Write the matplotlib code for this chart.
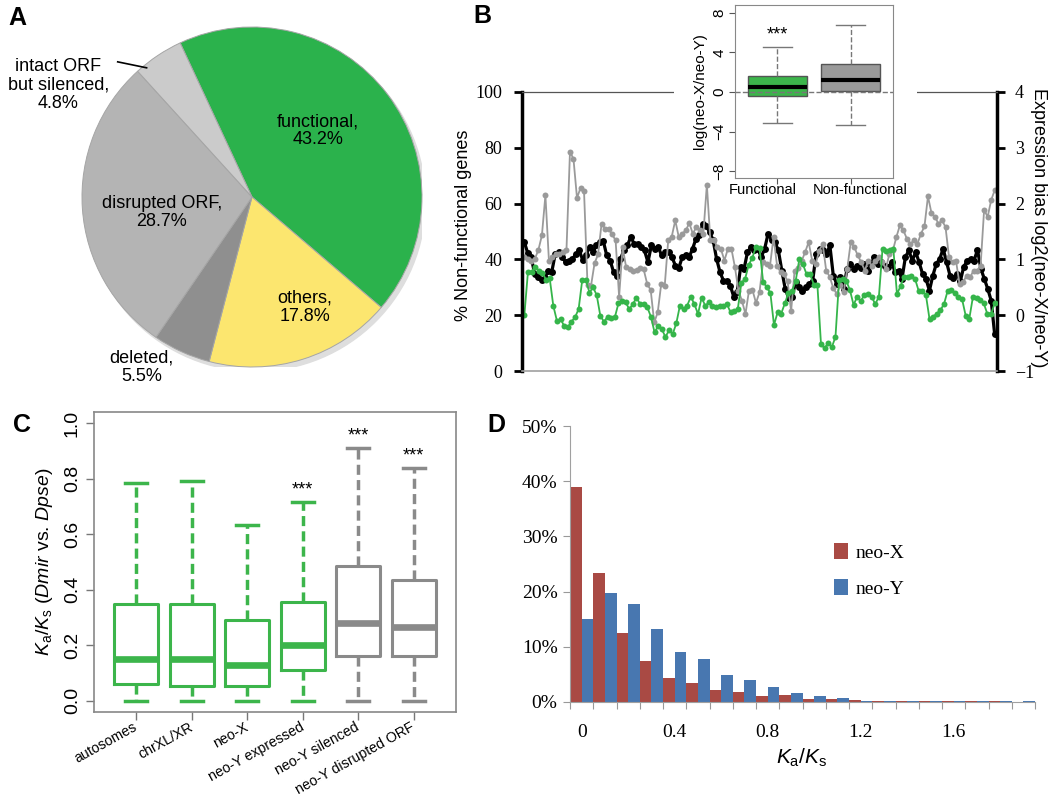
import numpy as np
import matplotlib
matplotlib.use('Agg')
import matplotlib.pyplot as plt
from matplotlib.patches import Rectangle, Circle

plt.rcParams['font.family'] = ['Liberation Sans', 'DejaVu Sans']
plt.rcParams['mathtext.fontset'] = 'custom'
plt.rcParams['mathtext.rm'] = 'Liberation Sans'
plt.rcParams['mathtext.it'] = 'Liberation Sans:italic'
SERIF = ['Liberation Serif', 'DejaVu Serif']

# ---- panel A: fate of neo-Y genes (%)
pie_labels = ['functional', 'others', 'deleted', 'disrupted ORF', 'intact ORF\nbut silenced']
pie_vals = [43.2, 17.8, 5.5, 28.7, 4.8]
pie_colors = ['#2bb24c', '#fce66f', '#8f8f8f', '#b4b4b4', '#cbcbcb']

# ---- panel B: sliding windows along the neo-sex chromosome
nonfunc_pct = [20, 35.6, 35.6, 37.4, 36, 35.3, 32.6, 33.3, 23.4, 18, 18.6, 16.2, 15.6, 17.7, 19.2,
               22.2, 32.6, 32.6, 28.1, 30, 27.2, 19.8, 17.7, 19.4, 19, 19.2, 24.2, 25.1, 24.6, 22.2,
               24, 26.3, 24, 24, 22.8, 19.4, 13.8, 16.2, 15, 12.2, 14.6, 13.2, 17.1, 23.4, 22.2,
               23.4, 26.6, 24, 20.4, 26.3, 23.4, 24.6, 23.4, 22.8, 23.4, 23.4, 24, 21, 21.6, 22.2,
               31.7, 32.9, 38, 40.5, 44.4, 44, 32, 30, 28, 16.5, 21, 20.6, 24.2, 28, 28.7, 32.3,
               40, 38.3, 34.7, 34.7, 31, 30.9, 9.6, 8.1, 10.2, 8.6, 12.2, 32.6, 33, 32.3, 29, 23.7,
               26.6, 25.1, 27.3, 27.5, 26.6, 24, 26.6, 43.7, 42.9, 43.4, 43.7, 27.5, 30.5, 33.8,
               33.8, 34.1, 33, 28.7, 28.5, 27.2, 18.6, 19.4, 20.6, 21.8, 24, 28.7, 29, 27.8, 26.6,
               25.7, 19.8, 18.8, 26.6, 26.1, 25.4, 24.2, 20.4, 20.4, 24.2]
bias_black = [1.31, 1.11, 1.04, 0.74, 0.69, 0.63, 0.67, 0.80, 0.78, 1.10, 1.13, 1.05, 0.95, 0.98,
              1.01, 1.09, 1.16, 0.99, 1.08, 1.22, 1.13, 1.25, 1.31, 1.33, 1.07, 0.98, 0.77, 0.71,
              1.01, 1.16, 1.25, 1.40, 1.28, 1.27, 1.22, 1.16, 0.95, 1.25, 1.19, 1.22, 1.07, 1.13,
              1.13, 1.04, 0.89, 0.85, 1.04, 1.08, 1.04, 1.19, 1.37, 1.43, 1.64, 1.59, 1.49, 1.34,
              1.01, 0.77, 0.62, 0.62, 0.53, 0.33, 0.41, 0.86, 0.83, 1.13, 1.22, 1.16, 1.19, 1.04,
              1.19, 1.46, 1.35, 1.31, 1.16, 0.80, 0.47, 0.31, 0.33, 0.59, 0.50, 0.44, 0.50, 0.56,
              0.62, 1.10, 1.19, 1.16, 1.09, 1.25, 0.71, 0.56, 0.69, 0.47, 0.83, 0.92, 0.83, 0.89,
              0.85, 0.91, 0.80, 0.92, 1.04, 0.92, 0.95, 0.89, 0.86, 0.95, 0.77, 0.80, 0.65, 1.04,
              1.16, 0.98, 1.13, 0.95, 0.74, 0.65, 0.44, 0.71, 0.92, 1.01, 1.19, 0.95, 0.71, 0.67,
              0.74, 0.61, 0.87, 0.97, 1.01, 0.98, 1.17, 0.83, 0.65, 0.47, 0.26, -0.34]
bias_gray = [1.04, 1.01, 0.98, 1.01, 1.17, 1.43, 2.15, 0.98, 1.04, 1.10, 1.10, 1.13, 1.17, 2.93,
             2.80, 2.10, 2.28, 2.23, 0.54, 0.53, 0.93, 1.09, 1.64, 1.55, 1.55, 1.45, 1.34, 0.33,
             1.22, 0.86, 0.82, 0.79, 0.81, 0.85, 0.82, 0.56, 0.45, -0.13, 0.05, 0.56, 0.53, 1.35,
             1.41, 1.70, 1.40, 1.46, 1.52, 1.65, 1.46, 1.58, 1.53, 1.46, 2.34, 1.34, 1.35, 1.22,
             1.19, 0.98, 1.19, 1.19, 0.86, 0.44, 0.26, 0.02, 0.44, 0.45, 0.22, 0.41, 0.95, 0.91,
             0.89, 1.40, 0.89, 0.77, 0.74, 0.61, 0.07, 0.80, 0.85, 0.97, 1.13, 1.31, 0.98, 0.92,
             1.15, 1.28, 0.80, 0.69, 0.49, 0.38, 0.54, 0.41, 0.83, 1.31, 1.22, 1.07, 0.95, 0.80,
             0.98, 0.89, 0.98, 1.04, 0.95, 0.83, 1.10, 1.16, 1.40, 1.61, 1.52, 1.37, 1.28, 1.34,
             1.28, 1.46, 1.59, 2.13, 1.83, 1.76, 1.64, 1.70, 1.58, 1.04, 0.95, 0.97, 0.56, 0.59,
             0.71, 0.68, 0.80, 0.80, 0.89, 1.89, 1.76, 2.06, 2.24]

# inset boxplot log(neo-X/neo-Y)
inset_names = ['Functional', 'Non-functional']
inset_whislo = [-3.14, -3.34]
inset_q1 = [-0.37, 0.07]
inset_med = [0.5, 1.25]
inset_q3 = [1.59, 2.84]
inset_whishi = [4.6, 6.82]
inset_colors = ['#3cb54b', '#9a9a9a']

# ---- panel C: Ka/Ks boxplots
c_names = ['autosomes', 'chrXL/XR', 'neo-X', 'neo-Y expressed', 'neo-Y silenced', 'neo-Y disrupted ORF']
c_whislo = [0, 0, 0, 0, 0, 0]
c_q1 = [0.06, 0.055, 0.055, 0.11, 0.16, 0.16]
c_med = [0.15, 0.15, 0.13, 0.20, 0.28, 0.265]
c_q3 = [0.35, 0.35, 0.29, 0.355, 0.485, 0.435]
c_whishi = [0.785, 0.79, 0.635, 0.715, 0.91, 0.84]
c_signif = [False, False, False, True, True, True]
c_colors = ['#3cb54b'] * 4 + ['#8a8a8a'] * 2

# ---- panel D: Ka/Ks distribution (%)
bin_labels = ['0', '0.1', '0.2', '0.3', '0.4', '0.5', '0.6', '0.7', '0.8', '0.9',
              '1.0', '1.1', '1.2', '1.3', '1.4', '1.5', '1.6', '1.7', '1.8', '1.9']
neo_x = [38.9, 23.4, 12.5, 7.4, 4.3, 3.5, 2.1, 1.8, 1.1, 1.2,
         0.6, 0.6, 0.4, 0.2, 0.2, 0.2, 0.25, 0.2, 0.2, 0.05]
neo_y = [15.0, 19.7, 17.8, 13.3, 9.0, 7.7, 4.9, 4.0, 2.7, 1.6,
         1.0, 0.8, 0.2, 0.2, 0.25, 0.1, 0.25, 0.1, 0.25, 0.25]

W, H = 1050, 799


def box(x0, y0, x1, y1):
    return [x0 / W, 1 - y1 / H, (x1 - x0) / W, (y1 - y0) / H]


fig = plt.figure(figsize=(W / 100, H / 100), dpi=100)

# ================= A
ax = fig.add_axes(box(82, 27, 422, 367))
ax.add_patch(Circle((0.02, -0.025), 1.0, color='#dedede', zorder=0))
ax.pie(pie_vals, colors=pie_colors, startangle=115, counterclock=False, radius=1,
       wedgeprops=dict(edgecolor='#a5a5a5', linewidth=0.7))
ax.set_xlim(-1, 1)
ax.set_ylim(-1, 1)
label_pos = [(0.39, 0.39), (0.31, -0.65), (-0.65, -1.0), (-0.53, -0.09), (-1.14, 0.66)]
for name, v, (tx, ty) in zip(pie_labels, pie_vals, label_pos):
    ax.text(tx, ty, f'{name},\n{v}%', ha='center', va='center', fontsize=13, linespacing=1.1)
ax.plot([-0.79, -0.62], [0.795, 0.76], color='black', lw=1.2, clip_on=False)

# ================= B
axb = fig.add_axes(box(522, 92, 997, 371))
axb2 = axb.twinx()
axb2.set_zorder(0)
axb.set_zorder(0.5)
axb.patch.set_visible(False)

xb = np.linspace(0, 100, len(bias_black))
xg = np.linspace(0, 100, len(bias_gray))
xn = np.linspace(0, 100, len(nonfunc_pct))
axb2.plot(xb, bias_black, '-o', color='black', lw=2.3, ms=5, mec='none')
axb2.plot(xg, bias_gray, '-o', color='#9a9a9a', lw=1.3, ms=4.3, mec='none')
axb.plot(xn, nonfunc_pct, '-o', color='#35b54a', lw=1.3, ms=4.3, mec='none')

axb.set_xlim(-0.5, 100.5)
axb.set_ylim(0, 100)
axb2.set_ylim(-1, 4)
axb.set_xticks([])
axb.set_yticks([0, 20, 40, 60, 80, 100])
axb.set_yticklabels(['0', '20', '40', '60', '80', '100'], fontfamily=SERIF)
axb2.set_yticks([-1, 0, 1, 2, 3, 4])
axb2.set_yticklabels(['\u22121', '0', '1', '2', '3', '4'], fontfamily=SERIF)
axb.tick_params(axis='y', direction='out', length=6, width=2, labelsize=13, pad=8)
axb2.tick_params(axis='y', direction='out', length=6, width=2, labelsize=13, pad=7)
axb.spines['right'].set_visible(False)
for s in ['left', 'top', 'bottom']:
    axb2.spines[s].set_visible(False)
axb.spines['left'].set_linewidth(2.5)
axb2.spines['right'].set_linewidth(2.5)
axb.spines['top'].set_color('#555555')
axb.spines['top'].set_linewidth(0.9)
axb.spines['bottom'].set_color('#a0a0a0')
axb.spines['bottom'].set_linewidth(1.2)
fig.text(463 / W, 1 - 225 / H, '% Non-functional genes', rotation=90, ha='center', va='center', fontsize=13)
fig.text(1038 / W, 1 - 228 / H, 'Expression bias log2(neo-X/neo-Y)', rotation=-90,
         ha='center', va='center', fontsize=13)

# white area behind inset
fig.add_artist(Rectangle((674 / W, 1 - 100 / H), (917 - 674) / W, 100 / H, transform=fig.transFigure,
                         facecolor='white', edgecolor='none', zorder=2))

axi = fig.add_axes(box(735, 5, 893, 178))
axi.set_zorder(3)
stats = [dict(whislo=a, q1=b, med=c, q3=d, whishi=e, fliers=[])
         for a, b, c, d, e in zip(inset_whislo, inset_q1, inset_med, inset_q3, inset_whishi)]
art = axi.bxp(stats, positions=[1, 2], widths=0.8, patch_artist=True, showfliers=False,
              boxprops=dict(edgecolor='#555555', linewidth=1),
              whiskerprops=dict(color='#777777', linestyle='--', linewidth=1),
              capprops=dict(color='#777777', linewidth=1),
              medianprops=dict(color='black', linewidth=3), manage_ticks=False)
for patch, col in zip(art['boxes'], inset_colors):
    patch.set_facecolor(col)
axi.axhline(0, color='#777777', ls='--', lw=1, zorder=3)
axi.text(1, inset_whishi[0] + 0.3, '***', ha='center', va='bottom', fontsize=13)
axi.set_xlim(0.42, 2.58)
axi.set_ylim(-8.7, 8.8)
axi.set_xticks([1, 2])
axi.set_xticklabels([])
for xt, name in zip([0.8, 2.13], inset_names):
    axi.text(xt, -0.03, name, transform=axi.get_xaxis_transform(), ha='center', va='top', fontsize=10.5)
axi.set_yticks([-8, -4, 0, 4, 8])
axi.set_yticklabels(['\u22128', '\u22124', '0', '4', '8'], rotation=90, va='center', fontsize=11)
axi.tick_params(direction='out', length=4, color='#555555', pad=2)
axi.set_ylabel('log(neo-X/neo-Y)', fontsize=11, labelpad=4)
for s in axi.spines.values():
    s.set_color('#888888')

# ================= C
axc = fig.add_axes(box(94, 412, 456, 712))
pos = np.arange(1, len(c_names) + 1)
stats = [dict(whislo=a, q1=b, med=c, q3=d, whishi=e, fliers=[])
         for a, b, c, d, e in zip(c_whislo, c_q1, c_med, c_q3, c_whishi)]
art = axc.bxp(stats, positions=pos, widths=0.8, showfliers=False,
              boxprops=dict(linewidth=2.2),
              whiskerprops=dict(linewidth=2.5, linestyle=(0, (2.9, 1.5))),
              capprops=dict(linewidth=2.5),
              medianprops=dict(linewidth=4.8), manage_ticks=False)
for i, col in enumerate(c_colors):
    art['boxes'][i].set_color(col)
    art['medians'][i].set_color(col)
    for k in (2 * i, 2 * i + 1):
        art['whiskers'][k].set_color(col)
        art['caps'][k].set_color(col)
for p, hi, sig in zip(pos, c_whishi, c_signif):
    if sig:
        axc.text(p, hi + 0.012, '***', ha='center', va='bottom', fontsize=13)
axc.set_xlim(0.24, 6.76)
axc.set_ylim(-0.04, 1.04)
axc.set_xticks(pos)
axc.set_xticklabels(c_names, rotation=29, ha='right', va='center', rotation_mode='anchor', fontsize=10.2)
axc.set_yticks([0, 0.2, 0.4, 0.6, 0.8, 1.0])
axc.set_yticklabels(['0.0', '0.2', '0.4', '0.6', '0.8', '1.0'], rotation=90, va='center', fontsize=14)
axc.tick_params(direction='out', length=6, color='#777777', width=1)
axc.tick_params(axis='x', pad=4)
axc.set_ylabel(r'$K_{\mathrm{a}}/K_{\mathrm{s}}$ ($Dmir$ vs. $Dpse$)', fontsize=14, labelpad=6)
for s in axc.spines.values():
    s.set_color('#888888')
    s.set_linewidth(1.2)

# ================= D
axd = fig.add_axes(box(570, 426, 1035, 702))
idx = np.arange(len(bin_labels))
axd.bar(idx - 0.25, neo_x, width=0.5, color='#a94a44', label='neo-X')
axd.bar(idx + 0.25, neo_y, width=0.5, color='#4877b0', label='neo-Y')
axd.set_xlim(-0.5, len(bin_labels) - 0.5)
axd.set_ylim(0, 50)
axd.set_yticks([0, 10, 20, 30, 40, 50])
axd.set_yticklabels([f'{v}%' for v in [0, 10, 20, 30, 40, 50]], fontfamily=SERIF, fontsize=14)
axd.set_xticks(np.arange(len(bin_labels) + 1) - 0.5)
axd.set_xticklabels([])
axd.set_xticks(idx[::4], minor=True)
axd.set_xticklabels(bin_labels[::4], minor=True, fontfamily=SERIF, fontsize=14)
axd.tick_params(axis='x', which='major', direction='out', length=5, color='#999999')
axd.tick_params(axis='x', which='minor', length=0, pad=16)
axd.tick_params(axis='y', direction='out', length=5, color='#999999', pad=4)
for s in ['top', 'right']:
    axd.spines[s].set_visible(False)
for s in ['left', 'bottom']:
    axd.spines[s].set_color('#a0a0a0')
fig.text(802 / W, 1 - 758 / H, r'$K_{\mathrm{a}}/K_{\mathrm{s}}$', ha='center', va='center', fontsize=15)
axd.legend(loc='upper left', bbox_to_anchor=(0.53, 0.64), frameon=False, handlelength=0.7,
           handleheight=0.9, handletextpad=0.4, labelspacing=0.9, prop=dict(family=SERIF, size=14))

# panel letters
for letter, px, py in [('A', 17, 18), ('B', 482, 16), ('C', 22, 425), ('D', 496, 425)]:
    fig.text(px / W, 1 - py / H, letter, fontsize=18, fontweight='bold', ha='center', va='center')

fig.savefig('out.png', dpi=100)
